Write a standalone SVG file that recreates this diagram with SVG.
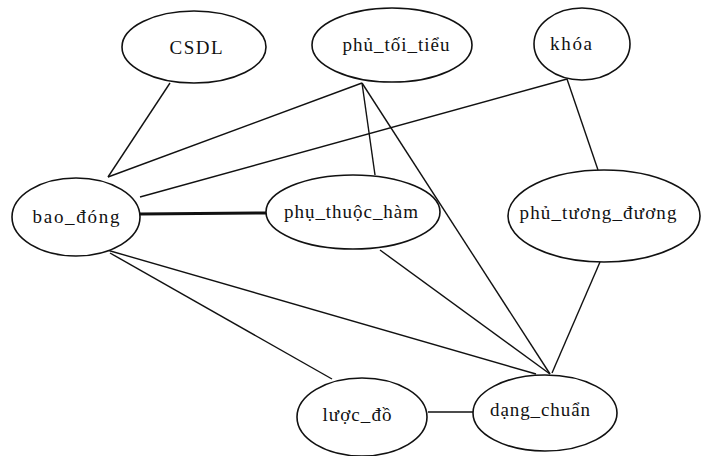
<svg xmlns="http://www.w3.org/2000/svg" width="701" height="456" viewBox="0 0 701 456">
<style>
.n ellipse{fill:#fff;stroke:#111;stroke-width:1.6}
.n text{font-family:"Liberation Serif","DejaVu Serif",serif;font-size:19px;fill:#111;text-anchor:middle}
.e line{stroke:#111;stroke-width:1.4}
</style>
<rect width="701" height="456" fill="#fff"/>
<g id="edges" class="e">
<line x1="170" y1="83" x2="108" y2="177"/>
<line x1="362" y1="83" x2="108" y2="177"/>
<line x1="567" y1="79" x2="140" y2="197"/>
<line x1="362" y1="83" x2="375" y2="175"/>
<line x1="362" y1="83" x2="550" y2="374"/>
<line x1="567" y1="79" x2="598" y2="170"/>
<line x1="140" y1="214" x2="268" y2="213" style="stroke-width:3"/>
<line x1="380" y1="250" x2="550" y2="374"/>
<line x1="107" y1="250" x2="536" y2="374"/>
<line x1="110" y1="253" x2="332" y2="379"/>
<line x1="600" y1="262" x2="552" y2="373"/>
<line x1="428" y1="412" x2="473" y2="412"/>
</g>
<g id="CSDL" class="n"><ellipse cx="194" cy="47" rx="72" ry="36"/><text x="196" y="54" textLength="53">CSDL</text></g>
<g id="phu_toi_tieu" class="n"><ellipse cx="392" cy="45" rx="80" ry="37"/><text x="396" y="51" textLength="107">phủ_tối_tiểu</text></g>
<g id="khoa" class="n"><ellipse cx="582" cy="44" rx="48" ry="36"/><text x="571" y="50" textLength="42">khóa</text></g>
<g id="bao_dong" class="n"><ellipse cx="76" cy="217" rx="64" ry="39"/><text x="76" y="223" textLength="87">bao_đóng</text></g>
<g id="phu_thuoc_ham" class="n"><ellipse cx="353" cy="212" rx="87" ry="37"/><text x="351" y="218" textLength="134">phụ_thuộc_hàm</text></g>
<g id="phu_tuong_duong" class="n"><ellipse cx="604" cy="216" rx="96" ry="46"/><text x="598" y="219" textLength="157">phủ_tương_đương</text></g>
<g id="luoc_do" class="n"><ellipse cx="362" cy="417" rx="65" ry="39"/><text x="357" y="421" textLength="69">lược_đồ</text></g>
<g id="dang_chuan" class="n"><ellipse cx="545" cy="413" rx="72" ry="38"/><text x="540" y="416" textLength="100">dạng_chuẩn</text></g>
</svg>
